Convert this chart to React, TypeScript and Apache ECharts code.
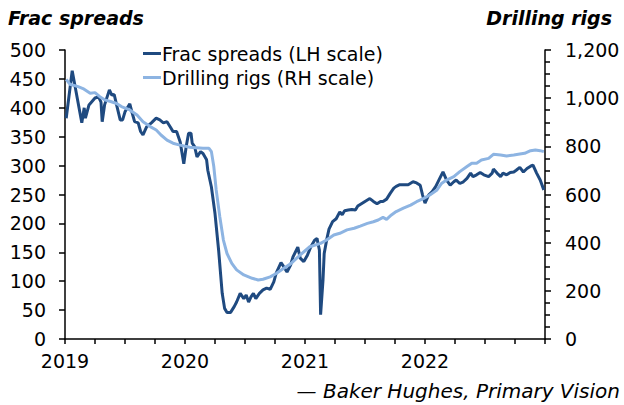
import React, { useEffect, useRef } from "react";
import * as echarts from "echarts";

// Frac spreads (weekly, decimal year) — LH scale
const fracDates = [
  2019.01, 2019.06, 2019.14, 2019.16, 2019.17, 2019.2, 2019.25, 2019.28, 2019.3, 2019.31,
  2019.33, 2019.37, 2019.39, 2019.41, 2019.43, 2019.46, 2019.48, 2019.5, 2019.54, 2019.56,
  2019.58, 2019.61, 2019.63, 2019.65, 2019.68, 2019.72, 2019.76, 2019.79, 2019.82, 2019.85,
  2019.88, 2019.9, 2019.93, 2019.96, 2019.99, 2020.01, 2020.03, 2020.05, 2020.06, 2020.08,
  2020.1, 2020.13, 2020.15, 2020.18, 2020.19, 2020.22, 2020.25, 2020.28, 2020.31, 2020.33,
  2020.35, 2020.38, 2020.41, 2020.43, 2020.46, 2020.49, 2020.51, 2020.53, 2020.55, 2020.57,
  2020.59, 2020.62, 2020.65, 2020.68, 2020.71, 2020.74, 2020.76, 2020.8, 2020.82, 2020.85,
  2020.88, 2020.9, 2020.94, 2020.96, 2020.99, 2021.02, 2021.05, 2021.08, 2021.1, 2021.12,
  2021.13, 2021.15, 2021.16, 2021.18, 2021.2, 2021.23, 2021.26, 2021.29, 2021.31, 2021.33,
  2021.36, 2021.39, 2021.42, 2021.44, 2021.47, 2021.5, 2021.54, 2021.57, 2021.6, 2021.63,
  2021.65, 2021.68, 2021.71, 2021.74, 2021.76, 2021.79, 2021.83, 2021.86, 2021.9, 2021.93,
  2021.96, 2021.98, 2022.0, 2022.03, 2022.06, 2022.09, 2022.13, 2022.15, 2022.18, 2022.21,
  2022.24, 2022.26, 2022.29, 2022.32, 2022.35, 2022.38, 2022.4, 2022.43, 2022.46, 2022.49,
  2022.53, 2022.56, 2022.57, 2022.6, 2022.63, 2022.65, 2022.68, 2022.71, 2022.74, 2022.76,
  2022.79, 2022.82, 2022.85, 2022.88, 2022.9, 2022.93, 2022.96, 2022.99,
];
const fracValues = [
  382, 464, 374, 400, 382, 405, 417, 419, 410, 376,
  405, 431, 422, 423, 405, 379, 379, 393, 407, 391,
  376, 374, 359, 353, 367, 374, 382, 379, 374, 376,
  366, 359, 359, 341, 303, 333, 356, 356, 339, 333,
  315, 324, 321, 310, 292, 263, 217, 154, 79, 53,
  46, 46, 56, 64, 79, 70, 76, 64, 73, 79,
  70, 79, 85, 88, 86, 99, 114, 132, 126, 116,
  128, 142, 159, 140, 134, 145, 160, 171, 174, 154,
  42, 102, 148, 171, 190, 203, 208, 220, 215, 222,
  223, 224, 223, 230, 234, 238, 243, 238, 234, 238,
  238, 242, 252, 261, 264, 267, 267, 267, 272, 270,
  266, 249, 235, 249, 255, 264, 281, 289, 275, 266,
  272, 275, 269, 272, 278, 287, 281, 284, 288, 284,
  281, 287, 294, 287, 281, 287, 284, 288, 289, 292,
  297, 289, 295, 299, 301, 287, 275, 258,
];

// Drilling rigs (decimal year) — RH scale
const rigDates = [
  2019.01, 2019.04, 2019.11, 2019.15, 2019.21, 2019.25, 2019.29, 2019.33, 2019.38, 2019.43,
  2019.47, 2019.54, 2019.6, 2019.65, 2019.71, 2019.76, 2019.8, 2019.85, 2019.9, 2019.95,
  2020.04, 2020.15, 2020.2, 2020.22, 2020.24, 2020.26, 2020.29, 2020.32, 2020.35, 2020.39,
  2020.43, 2020.49, 2020.56, 2020.61, 2020.65, 2020.71, 2020.76, 2020.82, 2020.88, 2020.96,
  2021.04, 2021.13, 2021.18, 2021.24, 2021.29, 2021.35, 2021.41, 2021.46, 2021.52, 2021.57,
  2021.61, 2021.65, 2021.68, 2021.72, 2021.76, 2021.82, 2021.88, 2021.93, 2021.99, 2022.04,
  2022.1, 2022.14, 2022.18, 2022.24, 2022.29, 2022.35, 2022.39, 2022.43, 2022.47, 2022.53,
  2022.57, 2022.63, 2022.68, 2022.74, 2022.79, 2022.83, 2022.88, 2022.92, 2022.96, 2022.99,
];
const rigValues = [
  1078, 1058, 1048, 1040, 1020, 1023, 1006, 993, 986, 978,
  965, 951, 930, 902, 882, 868, 847, 826, 813, 806,
  796, 792, 792, 778, 716, 619, 508, 411, 355, 314,
  287, 266, 252, 245, 248, 258, 272, 293, 312, 349,
  383, 397, 411, 432, 439, 453, 460, 469, 480, 487,
  494, 505, 497, 515, 529, 543, 556, 570, 584, 598,
  619, 647, 660, 674, 695, 716, 730, 730, 743, 750,
  767, 764, 760, 764, 768, 771, 782, 785, 782, 778,
];

const xTicksStart = 2019;
const xTicksEnd = 2023;
const leftMax = 500;
const rightMax = 1200;

const FONT = "DejaVu Sans";

export default function App() {
  const ref = useRef<HTMLDivElement>(null);

  useEffect(() => {
    if (!ref.current) return;
    const chart = echarts.init(ref.current, undefined, { renderer: "svg" });
    const fracData = fracDates.map((d, i) => [d, fracValues[i]]);
    const rigData = rigDates.map((d, i) => [d, rigValues[i]]);

    chart.setOption({
      animation: false,
      backgroundColor: "#ffffff",
      grid: { left: 65, right: 79, top: 50, bottom: 66, containLabel: false },
      legend: {
        orient: "vertical",
        left: 138,
        top: 39,
        itemWidth: 18,
        itemHeight: 3,
        itemGap: 5,
        icon: "rect",
        textStyle: { fontFamily: FONT, fontSize: 19, color: "#000", padding: [0, 0, 0, -4] },
        data: ["Frac spreads (LH scale)", "Drilling rigs (RH scale)"],
      },
      xAxis: {
        type: "value",
        min: xTicksStart,
        max: xTicksEnd,
        interval: 0.25,
        splitLine: { show: false },
        axisLine: { lineStyle: { color: "#000", width: 1.5 } },
        axisTick: { length: 5, lineStyle: { color: "#000", width: 1.5 } },
        axisLabel: {
          fontFamily: FONT,
          fontSize: 19,
          color: "#000",
          margin: 12,
          showMaxLabel: true,
          formatter: (v: number) => (Number.isInteger(v) && v < xTicksEnd ? String(v) : ""),
        },
      },
      yAxis: [
        {
          type: "value",
          position: "left",
          min: 0,
          max: leftMax,
          interval: 50,
          splitLine: { show: false },
          axisLine: { show: true, lineStyle: { color: "#000", width: 1.5 } },
          axisTick: { show: true, length: 6, lineStyle: { color: "#000", width: 1.5 } },
          axisLabel: { fontFamily: FONT, fontSize: 19, color: "#000", margin: 19 },
        },
        {
          type: "value",
          position: "right",
          min: 0,
          max: rightMax,
          interval: 200,
          splitLine: { show: false },
          axisLine: { show: true, lineStyle: { color: "#000", width: 1.5 } },
          axisTick: { show: true, length: 6, lineStyle: { color: "#000", width: 1.5 } },
          minorTick: { show: true, splitNumber: 4, length: 5, lineStyle: { color: "#000", width: 1.5 } },
          axisLabel: {
            fontFamily: FONT,
            fontSize: 19,
            color: "#000",
            margin: 20,
            formatter: (v: number) => v.toLocaleString("en-US"),
          },
        },
      ],
      graphic: [
        {
          type: "text",
          left: 8,
          top: 8,
          style: {
            text: "Frac spreads",
            font: `italic bold 19px ${FONT}`,
            fill: "#000",
          },
        },
        {
          type: "text",
          right: 12,
          top: 8,
          style: {
            text: "Drilling rigs",
            font: `italic bold 19px ${FONT}`,
            fill: "#000",
          },
        },
        {
          type: "text",
          right: 4,
          top: 381,
          style: {
            text: "— Baker Hughes, Primary Vision",
            font: `italic 20px ${FONT}`,
            fill: "#000",
          },
        },
      ],
      series: [
        {
          name: "Frac spreads (LH scale)",
          type: "line",
          yAxisIndex: 0,
          showSymbol: false,
          data: fracData,
          lineStyle: { color: "#1f4a80", width: 3 },
          itemStyle: { color: "#1f4a80" },
          z: 2,
        },
        {
          name: "Drilling rigs (RH scale)",
          type: "line",
          yAxisIndex: 1,
          showSymbol: false,
          data: rigData,
          lineStyle: { color: "#8db4e2", width: 3 },
          itemStyle: { color: "#8db4e2" },
          z: 3,
        },
      ],
    });
    return () => chart.dispose();
  }, []);

  return <div ref={ref} style={{ width: 624, height: 405, position: "absolute", left: 0, top: 0 }} />;
}
